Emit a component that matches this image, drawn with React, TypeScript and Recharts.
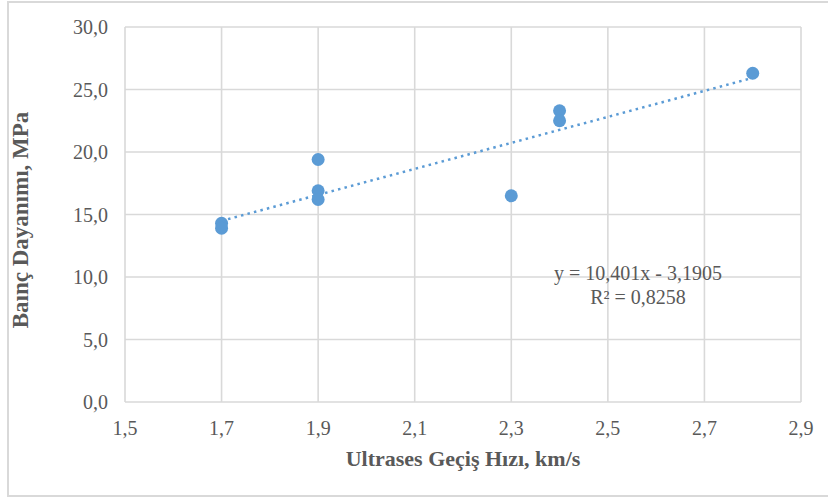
import React from 'react';
import { ComposedChart, Scatter, XAxis, YAxis, CartesianGrid, Customized } from 'recharts';

const speedKmS = [1.7, 1.7, 1.9, 1.9, 1.9, 2.3, 2.4, 2.4, 2.8];
const strengthMPa = [14.3, 13.9, 19.4, 16.9, 16.2, 16.5, 23.3, 22.5, 26.3];
const trendX = [1.7, 2.8];
const trendY = [14.49, 25.93];
const xTicks = [1.5, 1.7, 1.9, 2.1, 2.3, 2.5, 2.7, 2.9];
const yTicks = [0, 5, 10, 15, 20, 25, 30];
const equationText = 'y = 10,401x - 3,1905';
const r2Text = 'R² = 0,8258';
const xTitle = 'Ultrases Geçiş Hızı, km/s';
const yTitle = 'Baınç Dayanımı, MPa';

const points = speedKmS.map((x, i) => ({ x, y: strengthMPa[i] }));
const trend = trendX.map((x, i) => ({ x, y: trendY[i] }));

const FONT = '"Liberation Serif", "Times New Roman", serif';
const TEXT = '#595959';
const GRID = '#d9d9d9';
const BLUE = '#5b9bd5';

const fmt = (v: number) => v.toFixed(1).replace('.', ',');

const Annotations = () => (
  <g fontFamily={FONT} fill={TEXT}>
    <text x={20} y={220} transform="rotate(-90 20 220)" textAnchor="middle" dominantBaseline="central" fontWeight="bold" fontSize={23}>
      {yTitle}
    </text>
    <text x={638} y={280} textAnchor="middle" fontSize={20}>{equationText}</text>
    <text x={638} y={304} textAnchor="middle" fontSize={20}>{r2Text}</text>
  </g>
);

export default function App() {
  return (
    <div style={{ position: 'absolute', left: 0, top: 0, width: 828, height: 501, overflow: 'hidden', background: '#fff' }}>
      <div style={{ position: 'absolute', left: 7, top: 1, width: 840, height: 496, border: `2px solid ${GRID}`, boxSizing: 'border-box' }} />
      <div style={{ position: 'absolute', left: 0, top: 0 }}>
        <ComposedChart width={828} height={501} margin={{ top: 27, right: 27, bottom: 0, left: 0 }}>
          <CartesianGrid stroke={GRID} strokeWidth={1.6} />
          <XAxis
            type="number"
            dataKey="x"
            domain={[1.5, 2.9]}
            ticks={xTicks}
            tickFormatter={fmt}
            axisLine={false}
            tickLine={false}
            height={99}
            tickMargin={13}
            tick={{ fill: TEXT, fontSize: 20, fontFamily: FONT }}
            label={{ value: xTitle, position: 'insideBottom', offset: 35, fill: TEXT, fontSize: 22, fontWeight: 'bold', fontFamily: FONT }}
            allowDataOverflow
          />
          <YAxis
            type="number"
            dataKey="y"
            domain={[0, 30]}
            ticks={yTicks}
            tickFormatter={fmt}
            axisLine={false}
            tickLine={false}
            width={125}
            tickMargin={11}
            tick={{ fill: TEXT, fontSize: 20, fontFamily: FONT }}
            allowDataOverflow
          />
          <Scatter
            data={trend}
            line={{ stroke: BLUE, strokeWidth: 2.5, strokeDasharray: '2.5 4.2' }}
            shape={() => <g />}
            isAnimationActive={false}
          />
          <Scatter
            data={points}
            shape={(p: any) => <circle cx={p.cx} cy={p.cy} r={6.5} fill={BLUE} />}
            isAnimationActive={false}
          />
          <Customized component={Annotations} />
        </ComposedChart>
      </div>
    </div>
  );
}
